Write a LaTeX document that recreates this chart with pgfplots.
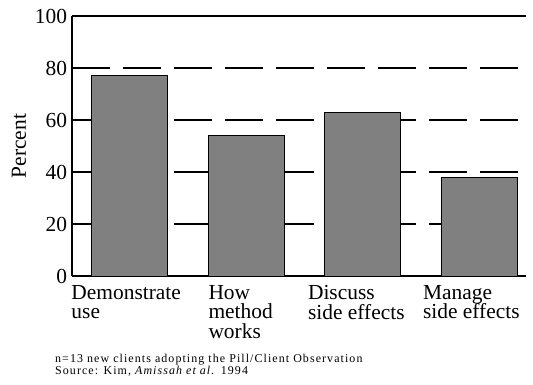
\documentclass[border=0pt]{standalone}
\usepackage{fontspec}
\setmainfont{Liberation Serif}
\usepackage{pgfplots}
\pgfplotsset{compat=1.18}
\definecolor{bargray}{RGB}{128,128,128}
\begin{document}
\begin{tikzpicture}
\path[use as bounding box] (0,0) rectangle (533bp,385bp);
\begin{axis}[
  at={(72bp,109bp)}, anchor=south west,
  scale only axis, width=454bp, height=260bp,
  xmin=-0.496, xmax=3.40, ymin=0, ymax=100,
  axis x line*=bottom, axis y line*=left,
  axis line style={line width=2.2bp},
  xtick=\empty,
  ytick={0,20,40,60,80,100},
  major tick length=0pt,
  /pgf/number format/assume math mode=true,
  yticklabel style={font=\fontsize{21.5}{24}\selectfont, xshift=-1.5bp},
  ymajorgrids,
  grid style={line width=1.6bp, black, dash pattern=on 38bp off 13bp},
  clip=false,
]
\addplot[ybar, bar width=76bp, fill=bargray, draw=black, line width=0.8bp]
  coordinates {(0,77) (1,54) (2,63) (3,38)};
\draw[line width=2.2bp] (rel axis cs:0,1) -- (rel axis cs:1,1);
\tikzset{cat/.style={anchor=north west, align=left, inner sep=0pt, font=\fontsize{21.5}{19.8}\selectfont}}
\node[cat] at ([xshift=-58.5bp,yshift=-9bp]axis cs:0,0) {Demonstrate\\use};
\node[cat] at ([xshift=-38bp,yshift=-9bp]axis cs:1,0) {How\\method\\works};
\node[cat] at ([xshift=-55bp,yshift=-9bp]axis cs:2,0) {Discuss\\side effects};
\node[cat] at ([xshift=-56.5bp,yshift=-9bp]axis cs:3,0) {Manage\\side effects};
\end{axis}
\node[rotate=90, inner sep=0pt, font=\fontsize{21.5}{24}\selectfont] at (19bp,239bp) {Percent};
\node[anchor=base west, inner sep=0pt, font=\fontsize{12}{12}\selectfont\addfontfeature{LetterSpace=9}] at (55bp,22.5bp) {n=13 new clients adopting the Pill/Client Observation};
\node[anchor=base west, inner sep=0pt, font=\fontsize{12}{12}\selectfont\addfontfeature{LetterSpace=9}] at (55bp,11bp) {Source: Kim, \textit{Amissah et al.} 1994};
\end{tikzpicture}
\end{document}
